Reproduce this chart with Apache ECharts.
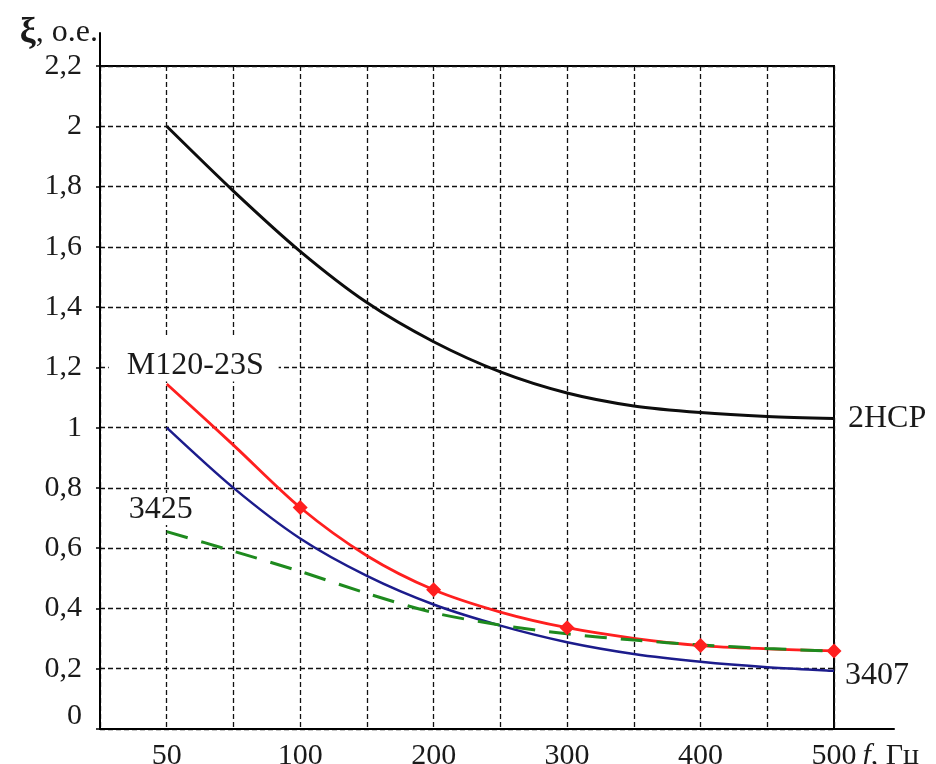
<!DOCTYPE html>
<html>
<head>
<meta charset="utf-8">
<script src="https://cdn.jsdelivr.net/npm/echarts@6/dist/echarts.min.js"></script>
<style>
html,body{margin:0;padding:0;background:#fff;}
#chart{width:936px;height:764px;}
</style>
</head>
<body>
<div id="chart"></div>
<script>
// x positions (evenly spaced ticks; first entry is the blank axis start)
const xCats = ['', '50', '75', '100', '150', '200', '250', '300', '350', '400', '450', '500'];
const xTickLabels = ['50', '100', '200', '300', '400', '500'];
const yTickLabels = ['0', '0,2', '0,4', '0,6', '0,8', '1', '1,2', '1,4', '1,6', '1,8', '2', '2,2'];

const names = ['2HCP', 'M120-23S', '3407', '3425'];
const black2HCP = [null, 2.00, 1.785, 1.585, 1.415, 1.285, 1.185, 1.115, 1.072, 1.05, 1.037, 1.03];
const redM120   = [null, 1.145, 0.942, 0.735, 0.575, 0.462, 0.388, 0.336, 0.301, 0.277, 0.266, 0.259];
const blue3407  = [null, 1.00, 0.80, 0.632, 0.508, 0.413, 0.343, 0.288, 0.249, 0.223, 0.205, 0.193];
const green3425 = [null, 0.655, 0.59, 0.523, 0.45, 0.386, 0.345, 0.316, 0.295, 0.279, 0.267, 0.258];
const redMarkerCats = ['100', '200', '300', '400', '500'];

const FONT = 'Liberation Serif';
const TXT = '#1a1a1a';
const gridLine = { color: '#111', width: 1.3, type: [5, 3] };

const redData = redM120.map((v, i) => ({
  value: v,
  symbol: redMarkerCats.includes(xCats[i]) ? 'diamond' : 'none'
}));

const chart = echarts.init(document.getElementById('chart'));
chart.setOption({
  animation: false,
  backgroundColor: '#fff',
  grid: [
    { left: 100, top: 66, right: 102, bottom: 35, show: true, borderColor: '#000', borderWidth: 2,
      backgroundColor: 'transparent', outerBoundsMode: 'none', containLabel: false },
    { left: 100, top: 33, right: 42, bottom: 35, show: false, outerBoundsMode: 'none', containLabel: false }
  ],
  xAxis: [
    {
      type: 'category', gridIndex: 0, data: xCats, boundaryGap: false,
      axisLine: { show: false }, axisTick: { show: false },
      axisLabel: {
        interval: 0, margin: 12, fontFamily: FONT, fontSize: 30, color: TXT,
        formatter: v => xTickLabels.includes(v) ? v : ''
      },
      splitLine: { show: true, interval: 0, lineStyle: gridLine },
      name: '{i|f}, Гц', nameLocation: 'end', nameGap: 22,
      nameTextStyle: {
        fontFamily: FONT, fontSize: 30, color: TXT, align: 'left', verticalAlign: 'top',
        padding: [12, 0, 0, 0],
        rich: { i: { fontFamily: FONT, fontSize: 30, fontStyle: 'italic', color: TXT } }
      }
    },
    {
      type: 'value', gridIndex: 1, min: 0, max: 1,
      axisLine: { show: true, onZero: true, lineStyle: { color: '#000', width: 2 } },
      axisTick: { show: false }, axisLabel: { show: false }, splitLine: { show: false }
    }
  ],
  yAxis: [
    {
      type: 'value', gridIndex: 0, min: 0, max: 2.2, interval: 0.2,
      axisLine: { show: false },
      axisTick: { show: true, length: 4, lineStyle: { color: '#000', width: 1.5 } },
      axisLabel: {
        margin: 18, fontFamily: FONT, fontSize: 30, color: TXT,
        formatter: v => {
          const lbl = yTickLabels[Math.round(v / 0.2)];
          return v === 0 ? '{z|' + lbl + '}' : '{n|' + lbl + '}';
        },
        rich: {
          z: { fontFamily: FONT, fontSize: 30, color: TXT, padding: [0, 0, 26, 0] },
          n: { fontFamily: FONT, fontSize: 30, color: TXT }
        }
      },
      splitLine: { show: true, lineStyle: gridLine },
      name: '{b|ξ}, о.е.', nameLocation: 'end', nameGap: 33,
      nameTextStyle: {
        fontFamily: FONT, fontSize: 32, color: TXT, align: 'right', verticalAlign: 'middle',
        padding: [0, 2, 0, 0],
        rich: { b: { fontFamily: FONT, fontSize: 36, fontWeight: 'bold', color: TXT } }
      }
    },
    {
      type: 'value', gridIndex: 1, min: 0, max: 1,
      axisLine: { show: true, lineStyle: { color: '#000', width: 2 } },
      axisTick: { show: false }, axisLabel: { show: false }, splitLine: { show: false }
    }
  ],
  series: [
    {
      name: names[0], type: 'line', xAxisIndex: 0, yAxisIndex: 0, data: black2HCP,
      smooth: 0.3, symbol: 'none', lineStyle: { color: '#0d0d0d', width: 3 },
      endLabel: { show: true, formatter: names[0], distance: 14, fontFamily: FONT, fontSize: 32, color: TXT }
    },
    {
      name: names[2], type: 'line', xAxisIndex: 0, yAxisIndex: 0, data: blue3407,
      smooth: 0.3, symbol: 'none', lineStyle: { color: '#1c1c8c', width: 2.5 },
      endLabel: { show: true, formatter: names[2], distance: 11, offset: [0, 5], fontFamily: FONT, fontSize: 32, color: TXT }
    },
    {
      name: names[1], type: 'line', xAxisIndex: 0, yAxisIndex: 0, data: redData,
      smooth: 0.3, symbolSize: 15, itemStyle: { color: '#ff1f1f' },
      lineStyle: { color: '#ff1f1f', width: 2.8 },
      markPoint: {
        symbol: 'circle', symbolSize: 1, itemStyle: { color: 'rgba(0,0,0,0)' },
        data: [{
          coord: [xCats[1], redM120[1]],
          label: {
            show: true, formatter: names[1], position: 'top', distance: 2, offset: [27, 0],
            fontFamily: FONT, fontSize: 32, color: TXT, backgroundColor: '#fff',
            padding: [14, 15, 0, 18]
          }
        }]
      }
    },
    {
      name: names[3], type: 'line', xAxisIndex: 0, yAxisIndex: 0, data: green3425,
      smooth: 0.3, symbol: 'none', lineStyle: { color: '#1e8a1e', width: 3, type: [22, 14] },
      markPoint: {
        symbol: 'circle', symbolSize: 1, itemStyle: { color: 'rgba(0,0,0,0)' },
        data: [{
          coord: [xCats[1], green3425[1]],
          label: {
            show: true, formatter: names[3], position: 'top', distance: 6, offset: [-6, 0],
            fontFamily: FONT, fontSize: 32, color: TXT, backgroundColor: '#fff',
            padding: [0, 2, 0, 2]
          }
        }]
      }
    }
  ]
});
</script>
</body>
</html>
